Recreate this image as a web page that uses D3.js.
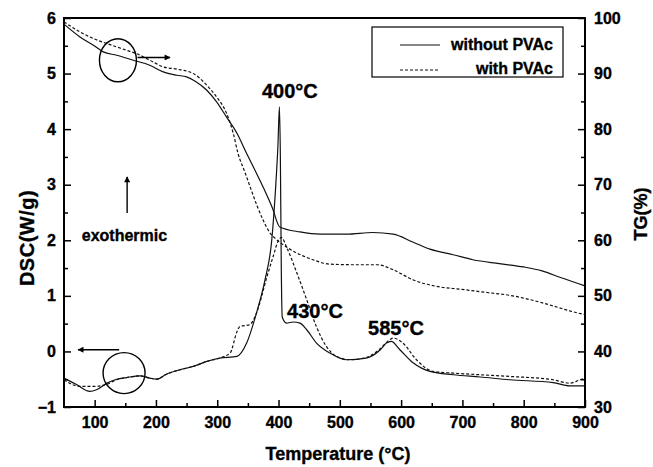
<!DOCTYPE html>
<html>
<head>
<meta charset="utf-8">
<script src="https://cdn.jsdelivr.net/npm/d3@7"></script>
<style>
  body { margin: 0; background: #fff; }
  text { font-family: "Liberation Sans", Arial, sans-serif; font-weight: bold; stroke: #000; stroke-width: 0.35px; }
</style>
</head>
<body>
<div id="chart"></div>
<script>
// temperature (°C), TG (%)
const tgWithout = [[50,98.9],[76,96.6],[98,95.1],[114,93.9],[136,93.3],[163,92.4],[190,91.5],[212,90.3],[234,89.7],[250,89.4],[266,88.5],[283,87.0],[299,84.9],[315,82.2],[332,79.3],[348,75.6],[362,72.5],[376,69.3],[390,65.8],[402,62.4],[435,61.5],[468,61.1],[511,61.1],[554,61.4],[587,61.1],[619,59.7],[647,58.4],[685,57.4],[717,56.5],[760,55.8],[800,55.2],[830,54.5],[860,53.3],[900,51.8]];
const tgWith = [[50,99.3],[76,97.5],[98,96.3],[120,95.4],[152,94.2],[168,93.6],[190,92.4],[212,91.2],[234,90.8],[261,90.0],[283,87.9],[299,85.8],[315,82.9],[326,79.3],[334,75.6],[345,72.3],[355,69.2],[365,66.2],[375,63.6],[385,61.5],[395,60.3],[405,59.4],[430,57.7],[456,56.5],[484,55.7],[522,55.6],[561,55.6],[587,54.7],[619,52.9],[663,51.6],[696,51.2],[740,50.6],[777,50.1],[832,48.7],[875,47.3],[900,46.6]];

// temperature (°C), DSC (W/g)
const dscWithout = [[50,-0.48],[71,-0.60],[92,-0.72],[103,-0.69],[120,-0.57],[136,-0.50],[152,-0.47],[174,-0.44],[190,-0.48],[201,-0.50],[217,-0.41],[239,-0.33],[261,-0.27],[283,-0.18],[304,-0.12],[332,-0.09],[348,0.15],[364,0.69],[378,1.29],[389,2.01],[395,2.9],[399,3.7],[401.5,4.40],[403,3.5],[404.5,1.5],[406,0.62],[413,0.51],[424,0.53],[435,0.51],[446,0.39],[462,0.15],[484,-0.03],[511,-0.15],[543,-0.12],[566,0.03],[576,0.15],[584,0.18],[598,0.03],[620,-0.21],[647,-0.36],[685,-0.42],[729,-0.46],[777,-0.51],[848,-0.56],[875,-0.62],[900,-0.62]];
const dscWith = [[50,-0.51],[76,-0.63],[98,-0.63],[120,-0.59],[136,-0.51],[152,-0.47],[174,-0.44],[190,-0.48],[201,-0.50],[217,-0.41],[239,-0.33],[261,-0.27],[283,-0.18],[306,-0.11],[321,-0.03],[332,0.35],[337,0.45],[353,0.48],[364,0.69],[381,1.34],[391,1.70],[400,2.0],[405,2.05],[413,1.88],[430,1.41],[446,0.93],[462,0.44],[478,0.09],[495,-0.09],[517,-0.15],[543,-0.11],[566,0.05],[580,0.20],[587,0.24],[603,0.15],[625,-0.15],[652,-0.36],[685,-0.39],[729,-0.42],[777,-0.45],[848,-0.51],[875,-0.57],[890,-0.52],[900,-0.48]];

const xTicks = [100, 200, 300, 400, 500, 600, 700, 800, 900];
const dscTicks = [-1, 0, 1, 2, 3, 4, 5, 6];
const tgTicks = [30, 40, 50, 60, 70, 80, 90, 100];
const legendLabels = ["without PVAc", "with PVAc"];

// peak labels: [T, DSC, number]
const peakLabels = [[373, 4.56, "400"], [414, 0.60, "430"], [546, 0.30, "585"]];

const width = 653, height = 467;
const margin = {top: 18, right: 68, bottom: 60, left: 64};

const svg = d3.select("#chart").append("svg")
    .attr("width", width)
    .attr("height", height);

const x = d3.scaleLinear().domain([50, 900]).range([margin.left, width - margin.right]);
const y = d3.scaleLinear().domain([-1, 6]).range([height - margin.bottom, margin.top]);
const yTG = d3.scaleLinear().domain([30, 100]).range([height - margin.bottom, margin.top]);

const bottom = height - margin.bottom, right = width - margin.right;

// major ticks
svg.append("g")
    .attr("transform", `translate(${margin.left},0)`)
    .call(d3.axisLeft(y).tickValues(dscTicks).tickSizeInner(-7).tickSizeOuter(0).tickPadding(8).tickFormat(d3.format("d")));
svg.append("g")
    .attr("transform", `translate(0,${bottom})`)
    .call(d3.axisBottom(x).tickValues(xTicks).tickSizeInner(-7).tickSizeOuter(0).tickPadding(10));
svg.append("g")
    .attr("transform", `translate(${right},0)`)
    .call(d3.axisRight(yTG).tickValues(tgTicks).tickSizeInner(-7).tickSizeOuter(0).tickPadding(9));

// minor ticks
svg.append("g")
    .attr("transform", `translate(${margin.left},0)`)
    .call(d3.axisLeft(y).tickValues(d3.range(-0.5, 6, 1)).tickSizeInner(-4).tickSizeOuter(0).tickFormat(""));
svg.append("g")
    .attr("transform", `translate(0,${bottom})`)
    .call(d3.axisBottom(x).tickValues(d3.range(150, 900, 100)).tickSizeInner(-4).tickSizeOuter(0).tickFormat(""));
svg.append("g")
    .attr("transform", `translate(${right},0)`)
    .call(d3.axisRight(yTG).tickValues(d3.range(35, 100, 10)).tickSizeInner(-4).tickSizeOuter(0).tickFormat(""));

svg.selectAll(".domain").remove();
svg.selectAll(".tick line").attr("stroke", "#000").attr("stroke-width", 1.5);
svg.selectAll(".tick text").attr("font-size", 16).attr("fill", "#000");

// frame
svg.append("rect")
    .attr("x", margin.left).attr("y", margin.top)
    .attr("width", right - margin.left).attr("height", bottom - margin.top)
    .attr("fill", "none").attr("stroke", "#000").attr("stroke-width", 2);

const lineDSC = d3.line().x(d => x(d[0])).y(d => y(d[1])).curve(d3.curveMonotoneX);
const lineTG = d3.line().x(d => x(d[0])).y(d => yTG(d[1])).curve(d3.curveMonotoneX);

const series = [
    {data: tgWithout, line: lineTG, dash: null},
    {data: tgWith, line: lineTG, dash: "3,2"},
    {data: dscWithout, line: lineDSC, dash: null},
    {data: dscWith, line: lineDSC, dash: "3,2"}
];
series.forEach(s => {
    svg.append("path")
        .datum(s.data)
        .attr("fill", "none")
        .attr("stroke", "#111")
        .attr("stroke-width", 1.2)
        .attr("stroke-dasharray", s.dash)
        .attr("d", s.line);
});

// arrow head marker
svg.append("defs").append("marker")
    .attr("id", "head")
    .attr("viewBox", "0 0 10 10")
    .attr("refX", 9).attr("refY", 5)
    .attr("markerWidth", 8).attr("markerHeight", 6)
    .attr("markerUnits", "userSpaceOnUse")
    .attr("orient", "auto")
  .append("path")
    .attr("d", "M0,0L10,5L0,10Z")
    .attr("fill", "#000");

// circles marking which axis each curve pair uses
svg.append("ellipse")
    .attr("cx", x(138)).attr("cy", y(5.24)).attr("rx", 18.5).attr("ry", 21.5)
    .attr("fill", "none").attr("stroke", "#000").attr("stroke-width", 1.4);
svg.append("ellipse")
    .attr("cx", x(148)).attr("cy", y(-0.39)).attr("rx", 21).attr("ry", 20.5)
    .attr("fill", "none").attr("stroke", "#000").attr("stroke-width", 1.4);

const arrows = [[170, 5.29, 223, 5.29], [140, 0.03, 73, 0.03], [153, 2.49, 153, 3.14]];
arrows.forEach(a => {
    svg.append("line")
        .attr("x1", x(a[0])).attr("y1", y(a[1]))
        .attr("x2", x(a[2])).attr("y2", y(a[3]))
        .attr("stroke", "#000").attr("stroke-width", 1.4)
        .attr("marker-end", "url(#head)");
});

svg.append("text")
    .attr("x", x(79)).attr("y", y(1.98))
    .attr("font-size", 16)
    .text("exothermic");

peakLabels.forEach(p => {
    svg.append("text")
        .attr("x", x(p[0])).attr("y", y(p[1]))
        .attr("font-size", 20)
        .text(p[2] + "°C");
});

// legend
const lg = svg.append("g");
lg.append("rect")
    .attr("x", 372).attr("y", 27).attr("width", 191).attr("height", 50)
    .attr("fill", "#fff").attr("stroke", "#000").attr("stroke-width", 1.2);
legendLabels.forEach((t, i) => {
    lg.append("line")
        .attr("x1", 400).attr("x2", 440)
        .attr("y1", 45 + i * 25).attr("y2", 45 + i * 25)
        .attr("stroke", "#111").attr("stroke-width", 1.2)
        .attr("stroke-dasharray", i ? "3,2" : null);
    lg.append("text")
        .attr("x", 553).attr("y", 50 + i * 24)
        .attr("text-anchor", "end")
        .attr("font-size", 16)
        .text(t);
});

// axis titles
svg.append("text")
    .attr("x", 338).attr("y", 460)
    .attr("text-anchor", "middle")
    .attr("font-size", 18)
    .text("Temperature (°C)");
svg.append("text")
    .attr("transform", `translate(34,238) rotate(-90)`)
    .attr("text-anchor", "middle")
    .attr("font-size", 20)
    .attr("letter-spacing", 0.5)
    .text("DSC(W/g)");
svg.append("text")
    .attr("transform", `translate(647,214) rotate(-90)`)
    .attr("text-anchor", "middle")
    .attr("font-size", 18)
    .text("TG(%)");
</script>
</body>
</html>
